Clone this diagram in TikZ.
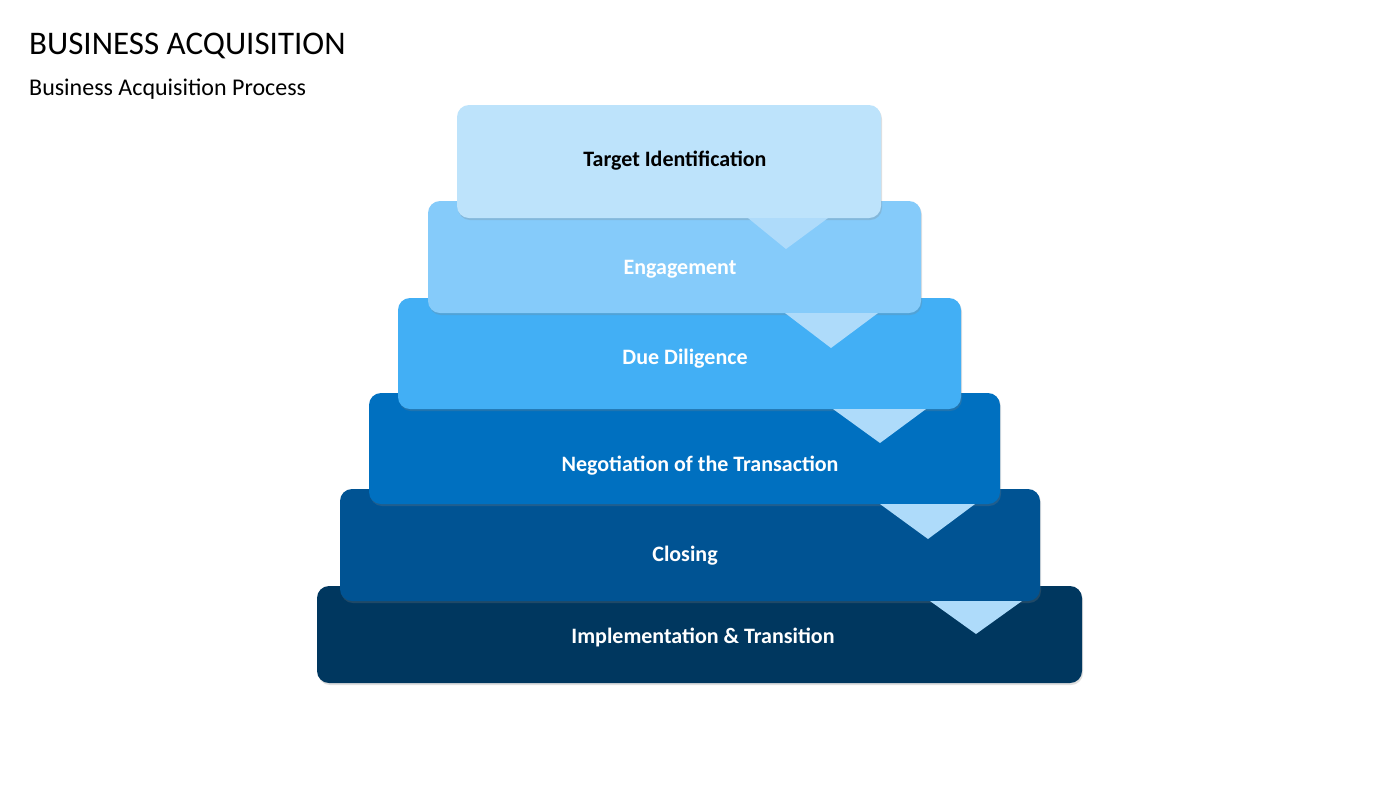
\documentclass[tikz,border=0pt]{standalone}
\usepackage{fontspec}
\setmainfont{Carlito}
\usetikzlibrary{shadows}
\definecolor{c1}{HTML}{BDE3FB}
\definecolor{c2}{HTML}{85CBFA}
\definecolor{c3}{HTML}{42AFF5}
\definecolor{c4}{HTML}{0070C0}
\definecolor{c5}{HTML}{005393}
\definecolor{c6}{HTML}{00375F}
\definecolor{tri}{HTML}{AEDBFA}
\begin{document}
\begin{tikzpicture}[x=1pt,y=-1pt,
  stepbox/.style={rounded corners=12pt,drop shadow={shadow xshift=1pt,shadow yshift=-2pt,opacity=0.25}},
  lbl/.style={font=\bfseries\fontsize{22}{26}\selectfont,text=white}]
\useasboundingbox[fill=white] (0,0) rectangle (1400,788);
\node[anchor=base west,font=\fontsize{33}{38}\selectfont,inner sep=0] (title) at (29,54) {BUSINESS ACQUISITION};
\node[anchor=base west,font=\fontsize{24}{28}\selectfont,inner sep=0] (sub) at (29,95) {Business Acquisition Process};
\fill[c6,stepbox] (317,586) rectangle (1082,683);
\fill[c5,stepbox] (340,489) rectangle (1040,601);
\fill[tri] (930,601) -- (1022,601) -- (976,634) -- cycle;
\fill[c4,stepbox] (369,393) rectangle (1000,504);
\fill[tri] (880,504) -- (975,504) -- (928,539) -- cycle;
\fill[c3,stepbox] (398,298) rectangle (961,409);
\fill[tri] (833,409) -- (926,409) -- (880,443) -- cycle;
\fill[c2,stepbox] (428,201) rectangle (921,313);
\fill[tri] (785,313) -- (878,313) -- (831,348) -- cycle;
\fill[c1,stepbox] (457,105) rectangle (881,218);
\fill[tri] (748,218) -- (828,218) -- (786,249) -- cycle;
\node[lbl,text=black] (n1) at (675,161) {Target Identification};
\node[lbl] (n2) at (680,269) {Engagement};
\node[lbl] (n3) at (685,359) {Due Diligence};
\node[lbl] (n4) at (700,466) {Negotiation of the Transaction};
\node[lbl] (n5) at (685,556) {Closing};
\node[lbl] (n6) at (703,637) {Implementation \& Transition};
\end{tikzpicture}
\end{document}
